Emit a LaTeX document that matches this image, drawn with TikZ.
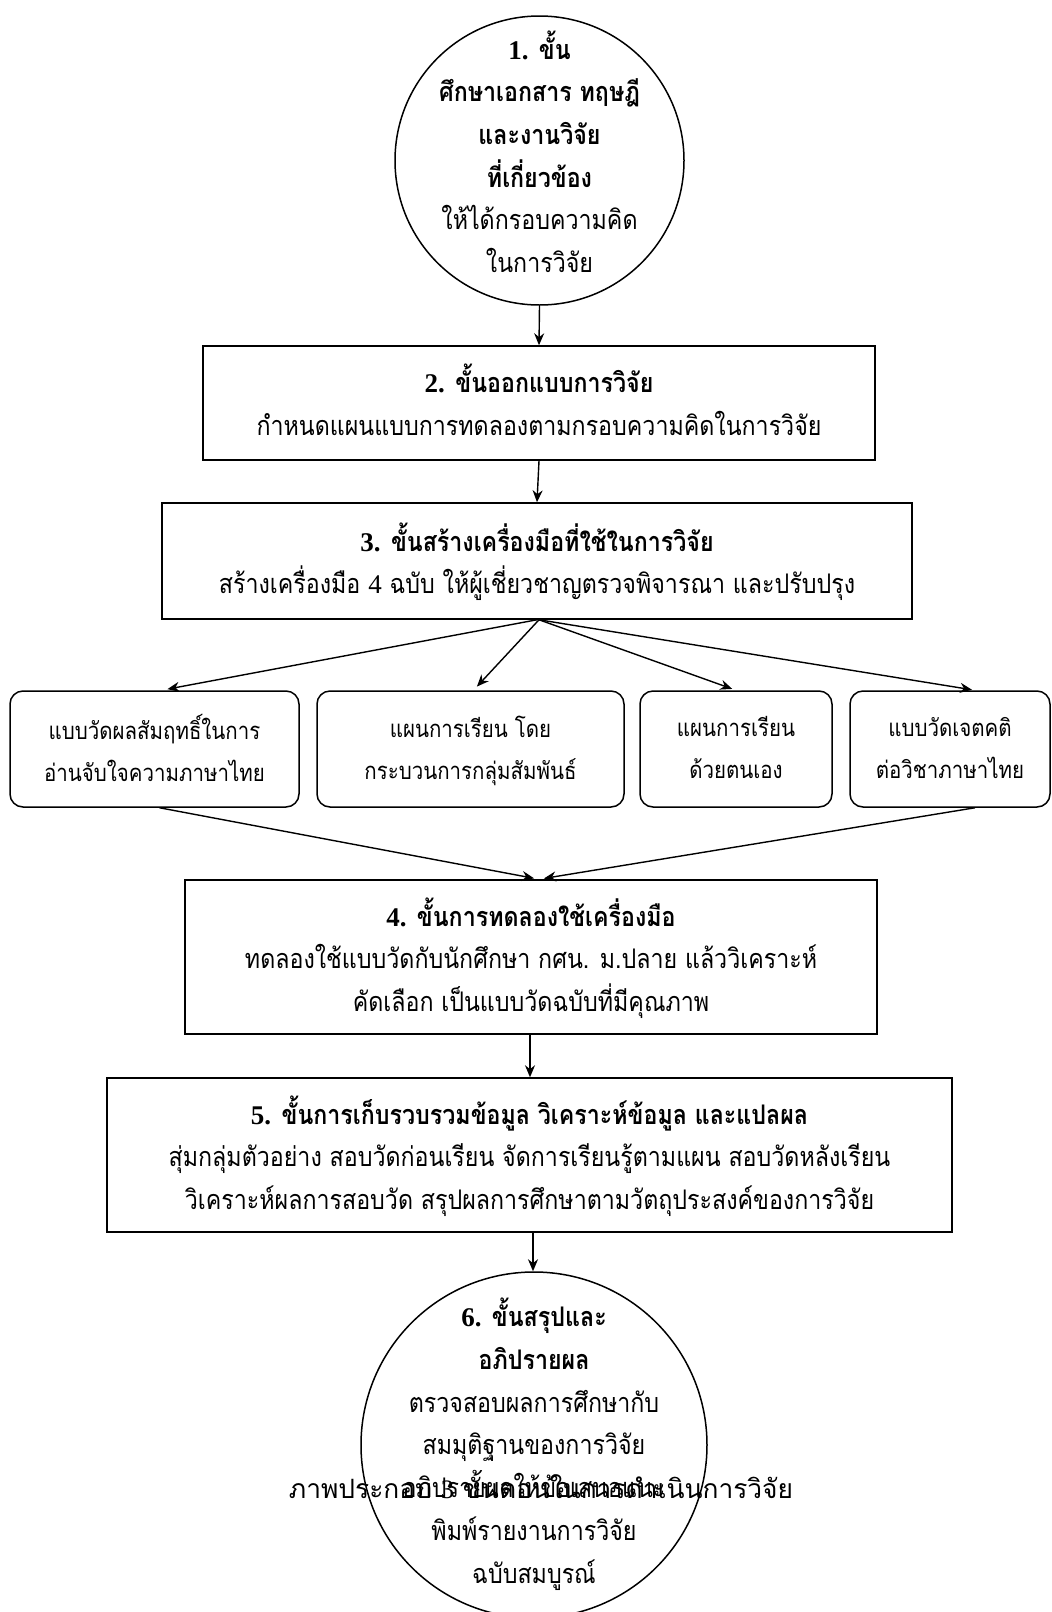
\documentclass[tikz,border=0pt]{standalone}
\usepackage{fontspec}
\setmainfont[Script=Thai, FakeStretch=0.86]{Loma}
\newfontfamily\capfont[Script=Thai, FakeStretch=0.99]{Loma}
\newfontfamily\lat{Liberation Serif}
\usetikzlibrary{arrows.meta}
\tikzset{
  thtext/.style={font=\fontsize{27}{42.7}\selectfont, align=center, inner sep=0pt,
    execute at begin node=\strut, execute at end node=\strut},
  smalltext/.style={thtext, font=\fontsize{23.8}{42}\selectfont},
  captext/.style={thtext, font=\capfont\fontsize{26.6}{42.7}\selectfont},
  stepbox/.style={draw, line width=1.5pt, inner sep=0pt},
  roundbox/.style={draw, line width=1.5pt, inner sep=0pt, rounded corners=13pt},
  stepcircle/.style={draw, circle, line width=1.5pt, inner sep=0pt},
  conn/.style={line width=1.4pt, -{Stealth[length=12pt,width=10pt]}}
}
\begin{document}
\begin{tikzpicture}[x=1pt,y=-1pt]
\useasboundingbox (0,0) rectangle (1052,1612);
\fill[white] (0,0) rectangle (1052,1612);

% step 1
\node[stepcircle, minimum size=289pt] (c1) at (539.5,160.5) {};
\node[thtext] (c1t) at (539.5,158)
  {\textbf{{\lat 1.} ขั้น}\\ \textbf{ศึกษาเอกสาร ทฤษฎี}\\ \textbf{และงานวิจัย}\\ \textbf{ที่เกี่ยวข้อง}\\ ให้ได้กรอบความคิด\\ ในการวิจัย};

% step 2
\node[stepbox, minimum width=672pt, minimum height=114pt] (b2) at (539,403) {};
\node[thtext] (b2t) at (539,406)
  {\textbf{{\lat 2.} ขั้นออกแบบการวิจัย}\\ กำหนดแผนแบบการทดลองตามกรอบความคิดในการวิจัย};

% step 3
\node[stepbox, minimum width=750pt, minimum height=116pt] (b3) at (537,561) {};
\node[thtext] (b3t) at (537,564.5)
  {\textbf{{\lat 3.} ขั้นสร้างเครื่องมือที่ใช้ในการวิจัย}\\ สร้างเครื่องมือ {\lat 4} ฉบับ ให้ผู้เชี่ยวชาญตรวจพิจารณา และปรับปรุง};

% instruments
\node[roundbox, minimum width=289pt, minimum height=116pt] (ba) at (154.5,749) {};
\node[smalltext] (bat) at (154.5,754) {แบบวัดผลสัมฤทธิ์ในการ\\ อ่านจับใจความภาษาไทย};
\node[roundbox, minimum width=307pt, minimum height=116pt] (bb) at (470.5,749) {};
\node[smalltext] (bbt) at (470.5,754) {แผนการเรียน โดย\\ กระบวนการกลุ่มสัมพันธ์};
\node[roundbox, minimum width=192pt, minimum height=116pt] (bc) at (736,749) {};
\node[smalltext] (bct) at (736,754) {แผนการเรียน\\ ด้วยตนเอง};
\node[roundbox, minimum width=200pt, minimum height=116pt] (bd) at (950,749) {};
\node[smalltext] (bdt) at (950,754) {แบบวัดเจตคติ\\ ต่อวิชาภาษาไทย};

% step 4
\node[stepbox, minimum width=692pt, minimum height=154pt] (b4) at (531,957) {};
\node[thtext] (b4t) at (531,961)
  {\textbf{{\lat 4.} ขั้นการทดลองใช้เครื่องมือ}\\ ทดลองใช้แบบวัดกับนักศึกษา กศน. ม.ปลาย แล้ววิเคราะห์\\ คัดเลือก เป็นแบบวัดฉบับที่มีคุณภาพ};

% step 5
\node[stepbox, minimum width=845pt, minimum height=154pt] (b5) at (529.5,1155) {};
\node[thtext] (b5t) at (529.5,1159)
  {\textbf{{\lat 5.} ขั้นการเก็บรวบรวมข้อมูล วิเคราะห์ข้อมูล และแปลผล}\\ สุ่มกลุ่มตัวอย่าง สอบวัดก่อนเรียน จัดการเรียนรู้ตามแผน สอบวัดหลังเรียน\\ วิเคราะห์ผลการสอบวัด สรุปผลการศึกษาตามวัตถุประสงค์ของการวิจัย};

% step 6
\node[stepcircle, minimum size=346pt] (c6) at (534,1445) {};
\node[thtext] (c6t) at (534,1447)
  {\textbf{{\lat 6.} ขั้นสรุปและ}\\ \textbf{อภิปรายผล}\\ ตรวจสอบผลการศึกษากับ\\ สมมุติฐานของการวิจัย\\ อภิปรายผลให้ข้อเสนอแนะ\\ พิมพ์รายงานการวิจัย\\ ฉบับสมบูรณ์};

% caption
\node[captext] (cap) at (541,1490) {ภาพประกอบ {\lat 3} ขั้นตอนในการดำเนินการวิจัย};

% connectors
\draw[conn] (c1.south) -- (b2.north);
\draw[conn] (b2.south) -- (b3.north);
\draw[conn, shorten >=6pt] (b3.south) -- ([xshift=7pt]ba.north);
\draw[conn, shorten >=5pt] ([xshift=2pt]b3.south) -- ([xshift=3pt]bb.north);
\draw[conn, shorten >=4pt] ([xshift=2pt]b3.south) -- (bc.north);
\draw[conn, shorten >=3pt] ([xshift=2pt]b3.south) -- ([xshift=25pt]bd.north);
\draw[conn, shorten >=5pt] ([xshift=5pt]ba.south) -- ([xshift=8pt]b4.north);
\draw[conn, shorten >=5pt] ([xshift=25pt]bd.south) -- ([xshift=8pt]b4.north);
\draw[conn] ([xshift=-1pt]b4.south) -- ([xshift=-1pt]b4.south |- b5.north);
\draw[conn] ([xshift=3.5pt]b5.south) -- ([xshift=3.5pt]b5.south |- c6.north);
\end{tikzpicture}
\end{document}
